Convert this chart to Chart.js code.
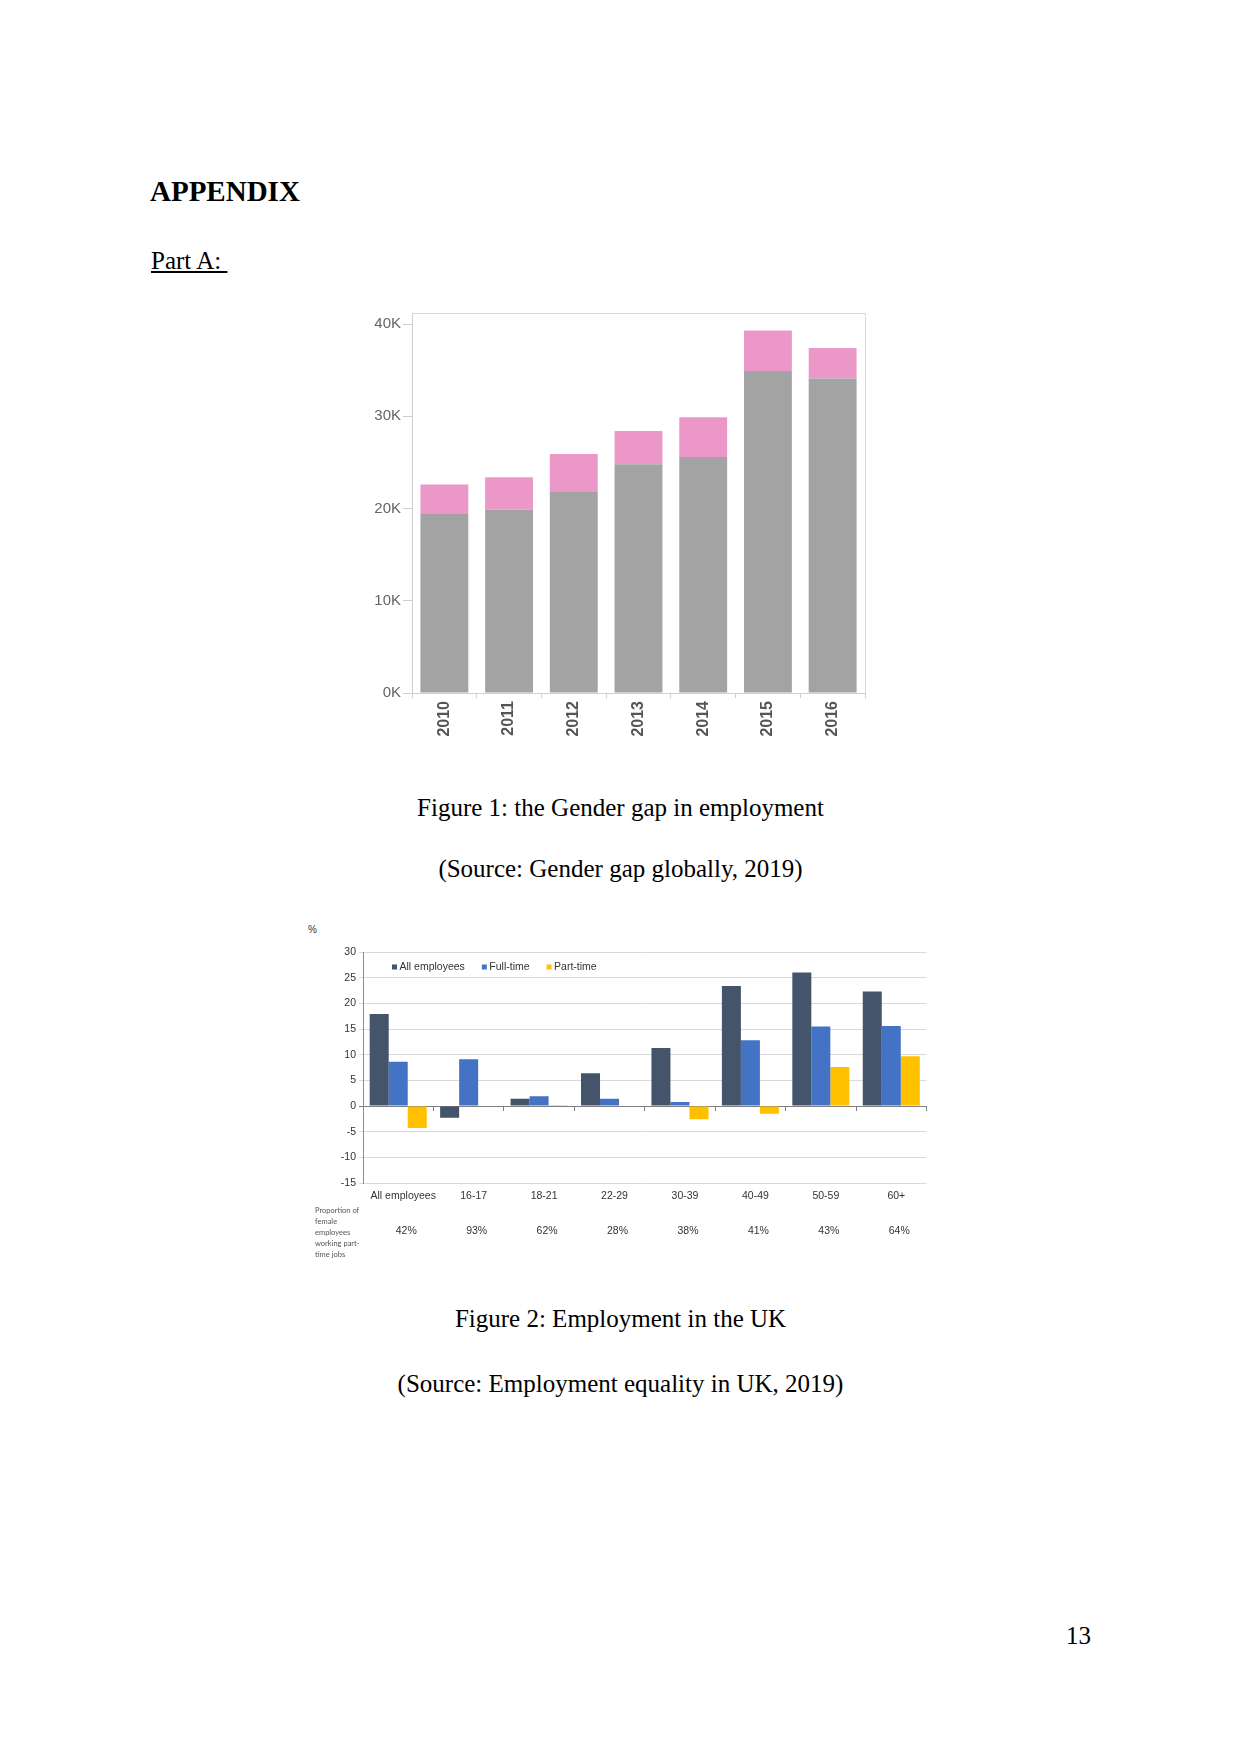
<!DOCTYPE html>
<html>
<head>
<meta charset="utf-8">
<script src="https://cdn.jsdelivr.net/npm/chart.js@4.4.0/dist/chart.umd.min.js"></script>
<style>
  body{margin:0;background:#fff;}
  #page{position:relative;width:1241px;height:1754px;background:#fff;font-family:"Liberation Serif","Times New Roman",serif;color:#000;}
  .txt{position:absolute;font-size:25px;line-height:25px;white-space:pre;}
  .center{left:0;width:1241px;text-align:center;}
  canvas{position:absolute;}
  #pct{position:absolute;left:308px;top:924px;font:10px "Liberation Sans",Arial,sans-serif;color:#333;}
  #propNote{position:absolute;left:315px;top:1206px;font:7.5px/10.9px Lato,"Liberation Sans",sans-serif;color:#555;}
</style>
</head>
<body>
<div id="page">
  <div class="txt" style="left:150px;top:177px;font-size:29px;line-height:29px;font-weight:bold;">APPENDIX</div>
  <div class="txt" style="left:151px;top:248px;text-decoration:underline;">Part A: </div>

  <canvas id="gapChart" width="580" height="460" style="left:320px;top:300px;"></canvas>
  <div class="txt center" style="top:795px;">Figure 1: the Gender gap in employment</div>
  <div class="txt center" style="top:856px;">(Source: Gender gap globally, 2019)</div>

  <div id="pct">%</div>
  <canvas id="ukChart" width="650" height="340" style="left:300px;top:920px;"></canvas>
  <div id="propNote">Proportion of<br>female<br>employees<br>working part-<br>time jobs</div>
  <div class="txt center" style="top:1306px;">Figure 2: Employment in the UK</div>
  <div class="txt center" style="top:1371px;">(Source: Employment equality in UK, 2019)</div>

  <div class="txt" style="left:1066px;top:1623px;">13</div>
</div>

<script>
// ---------- figure 1 data ----------
const years = ['2010','2011','2012','2013','2014','2015','2016'];
const baseValues = [19500, 19900, 21800, 24800, 25600, 34900, 34100];
const topValues  = [3100, 3500, 4100, 3600, 4300, 4400, 3300];
const gapTicks   = [0, 10000, 20000, 30000, 40000];

// ---------- figure 2 data ----------
const ageGroups = ['All employees','16-17','18-21','22-29','30-39','40-49','50-59','60+'];
const allEmployees = [17.9, -2.3, 1.4, 6.4, 11.3, 23.4, 26.0, 22.3];
const fullTime     = [8.6, 9.1, 1.9, 1.4, 0.8, 12.8, 15.5, 15.6];
const partTime     = [-4.3, 0, 0.2, 0, -2.6, -1.5, 7.6, 9.7];
const partShare    = ['42%','93%','62%','28%','38%','41%','43%','64%'];

Chart.defaults.font.family = '"Liberation Sans", Arial, sans-serif';
Chart.defaults.animation = false;

// light frame on top and right of the plot
const framePlugin = {
  id:'frame',
  afterDraw(chart){
    const {ctx, chartArea:a} = chart;
    ctx.save();
    ctx.strokeStyle = '#dadada'; ctx.lineWidth = 1;
    ctx.beginPath();
    ctx.moveTo(a.left, Math.round(a.top)+0.5);
    ctx.lineTo(Math.round(a.right)+0.5, Math.round(a.top)+0.5);
    ctx.lineTo(Math.round(a.right)+0.5, a.bottom);
    ctx.stroke();
    ctx.restore();
  }
};

new Chart(document.getElementById('gapChart'), {
  type:'bar',
  data:{
    labels: years,
    datasets:[
      {data: baseValues, backgroundColor:'#a3a3a3'},
      {data: topValues, backgroundColor:'#eb98c9'}
    ]
  },
  options:{
    responsive:false,
    layout:{padding:{left:0, top:13, right:35, bottom:12}},
    datasets:{bar:{categoryPercentage:1, barPercentage:0.74}},
    plugins:{legend:{display:false}, tooltip:{enabled:false}},
    scales:{
      x:{
        stacked:true,
        grid:{drawOnChartArea:false, offset:true, tickLength:5, color:'#cfcfcf'},
        border:{color:'#cfcfcf'},
        ticks:{minRotation:90, maxRotation:90, padding:3, color:'#555', font:{size:16, weight:'bold'}},
        afterFit(s){ s.height = 55; }
      },
      y:{
        stacked:true, min:0, max:41200,
        grid:{drawOnChartArea:false, tickLength:9, color:'#cfcfcf'},
        border:{color:'#cfcfcf'},
        ticks:{padding:2, color:'#666', font:{size:15}, callback:v => (v/1000) + 'K'},
        afterBuildTicks(s){ s.ticks = gapTicks.map(v => ({value:v})); },
        afterFit(s){ s.width = 92; }
      }
    }
  },
  plugins:[framePlugin]
});

// legend drawn in one row inside the top-left of the plot
const cornerLegend = {
  id:'cornerLegend',
  afterDraw(chart){
    const {ctx, chartArea:a} = chart;
    let x = a.left + 29, y = a.top + 15;
    ctx.save();
    ctx.font = '10.5px "Liberation Sans", Arial, sans-serif';
    ctx.textBaseline = 'middle';
    chart.data.datasets.forEach(ds => {
      ctx.fillStyle = ds.backgroundColor;
      ctx.fillRect(x, y - 2.5, 5, 5);
      x += 7.5;
      ctx.fillStyle = '#333';
      ctx.fillText(ds.label, x, y);
      x += ctx.measureText(ds.label).width + 17;
    });
    ctx.restore();
  }
};

new Chart(document.getElementById('ukChart'), {
  type:'bar',
  data:{
    labels: ageGroups,
    datasets:[
      {label:'All employees', data: allEmployees, backgroundColor:'#44546a'},
      {label:'Full-time', data: fullTime, backgroundColor:'#4472c4'},
      {label:'Part-time', data: partTime, backgroundColor:'#ffc000'}
    ]
  },
  options:{
    responsive:false,
    layout:{padding:{left:0, top:32, right:23.5, bottom:19}},
    datasets:{bar:{categoryPercentage:0.81, barPercentage:1}},
    plugins:{tooltip:{enabled:false}, legend:{display:false}},
    scales:{
      x:{
        position:'bottom', weight:0,
        grid:{display:false, drawTicks:false}, border:{display:false},
        ticks:{padding:7, labelOffset:5, minRotation:0, maxRotation:0, autoSkip:false, color:'#333', font:{size:10.5}},
        afterFit(s){ s.height = 22; }
      },
      x2:{
        type:'category', labels: partShare, position:'bottom', weight:1, offset:true,
        grid:{display:false, drawTicks:false}, border:{display:false},
        ticks:{padding:20, labelOffset:8, minRotation:0, maxRotation:0, autoSkip:false, color:'#333', font:{size:10.5}},
        afterFit(s){ s.height = 36; }
      },
      xZero:{
        type:'category', position:{y:0}, offset:true,
        grid:{drawOnChartArea:false, offset:true, tickLength:4, color:'#7f7f7f'},
        border:{color:'#7f7f7f'},
        ticks:{display:false}
      },
      y:{
        min:-15, max:30,
        grid:{tickLength:4, color:c => c.tick && c.tick.value === 0 ? '#7f7f7f' : '#d9d9d9'},
        border:{color:'#8c8c8c'},
        ticks:{stepSize:5, padding:3, color:'#333', font:{size:10.5}},
        afterFit(s){ s.width = 63; }
      }
    }
  },
  plugins:[cornerLegend]
});
</script>
</body>
</html>
